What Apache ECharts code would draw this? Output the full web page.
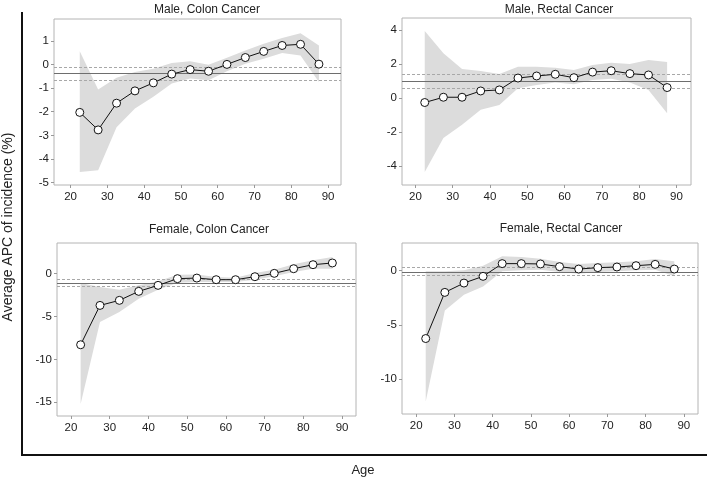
<!DOCTYPE html>
<html>
<head>
<meta charset="utf-8">
<script src="https://cdn.jsdelivr.net/npm/echarts@6/dist/echarts.min.js"></script>
<style>html,body{margin:0;padding:0;background:#fff}#c{width:708px;height:479px}</style>
</head>
<body>
<div id="c"></div>
<script>
const ages = [22.5, 27.5, 32.5, 37.5, 42.5, 47.5, 52.5, 57.5, 62.5, 67.5, 72.5, 77.5, 82.5, 87.5];
const xTicks = [20, 30, 40, 50, 60, 70, 80, 90];

const titles = ['Male, Colon Cancer', 'Male, Rectal Cancer', 'Female, Colon Cancer', 'Female, Rectal Cancer'];

// Male, Colon
const mcEst  = [-2.03, -2.77, -1.64, -1.12, -0.78, -0.41, -0.22, -0.29, 0.0, 0.29, 0.55, 0.80, 0.85, 0.01];
const mcHigh = [0.56, -1.06, -0.56, -0.32, -0.18, 0.06, 0.13, -0.01, 0.28, 0.59, 0.87, 1.12, 1.32, 0.80];
const mcLow  = [-4.55, -4.48, -2.66, -1.86, -1.37, -0.81, -0.60, -0.67, -0.29, 0.03, 0.24, 0.48, 0.38, -0.74];
const mcAapc = [-0.38, -0.13, -0.67];
const mcYTicks = [-5, -4, -3, -2, -1, 0, 1];

// Male, Rectal
const mrEst  = [-0.25, 0.06, 0.06, 0.43, 0.49, 1.19, 1.31, 1.41, 1.21, 1.54, 1.62, 1.45, 1.37, 0.63];
const mrHigh = [3.95, 2.64, 1.72, 1.60, 1.43, 1.86, 1.86, 1.80, 1.66, 1.95, 2.09, 2.01, 2.25, 2.13];
const mrLow  = [-4.34, -2.34, -1.56, -0.68, -0.39, 0.59, 0.78, 0.92, 0.82, 1.07, 1.15, 0.92, 0.49, -0.88];
const mrAapc = [1.0, 1.41, 0.59];
const mrYTicks = [-4, -2, 0, 2, 4];

// Female, Colon
const fcEst  = [-8.29, -3.70, -3.11, -2.06, -1.36, -0.58, -0.51, -0.70, -0.70, -0.35, 0.04, 0.58, 1.05, 1.25];
const fcHigh = [-1.09, -1.56, -1.87, -1.36, -0.89, -0.12, -0.08, -0.39, -0.47, 0.08, 0.47, 1.09, 1.56, 1.95];
const fcLow  = [-15.2, -5.64, -4.47, -2.92, -1.87, -1.05, -0.97, -0.97, -0.97, -0.70, -0.31, 0.19, 0.58, 0.58];
const fcAapc = [-1.09, -0.70, -1.48];
const fcYTicks = [-15, -10, -5, 0];

// Female, Rectal
const frEst  = [-6.25, -2.0, -1.14, -0.52, 0.65, 0.65, 0.62, 0.37, 0.15, 0.28, 0.34, 0.46, 0.58, 0.15];
const frHigh = [-0.06, -0.06, 0.03, 0.46, 1.32, 1.26, 1.10, 0.80, 0.62, 0.71, 0.77, 0.86, 1.08, 0.86];
const frLow  = [-12.06, -3.66, -2.22, -1.45, -0.06, 0.03, 0.09, -0.12, -0.28, -0.12, -0.06, 0.03, 0.09, -0.52];
const frAapc = [-0.12, 0.31, -0.46];
const frYTicks = [-10, -5, 0];

const panels = [
  {est: mcEst, hi: mcHigh, lo: mcLow, aapc: mcAapc, yt: mcYTicks, ymin: -5.1, ymax: 1.92, xmin: 15.5, xmax: 93.5,
   grid: {left: 54, top: 19, width: 287, height: 166}, title: [202, 6]},
  {est: mrEst, hi: mrHigh, lo: mrLow, aapc: mrAapc, yt: mrYTicks, ymin: -5.1, ymax: 4.72, xmin: 16.4, xmax: 93.9,
   grid: {left: 402, top: 18, width: 289, height: 167}, title: [554, 6]},
  {est: fcEst, hi: fcHigh, lo: fcLow, aapc: fcAapc, yt: fcYTicks, ymin: -16.6, ymax: 3.58, xmin: 16.4, xmax: 93.6,
   grid: {left: 57, top: 243, width: 299, height: 173}, title: [204, 226]},
  {est: frEst, hi: frHigh, lo: frLow, aapc: frAapc, yt: frYTicks, ymin: -13.2, ymax: 2.55, xmin: 16.3, xmax: 93.7,
   grid: {left: 402, top: 243, width: 296, height: 171}, title: [556, 225]}
];

const FONT = 'Liberation Sans, Arial, sans-serif';
const grids = [], xAxes = [], yAxes = [], series = [], titleOpts = [];

panels.forEach((p, i) => {
  grids.push(Object.assign({show: true, borderColor: '#b4b4b4', borderWidth: 1, backgroundColor: '#fff'}, p.grid));
  xAxes.push({
    type: 'value', gridIndex: i, min: p.xmin, max: p.xmax,
    axisLine: {show: false, onZero: false}, splitLine: {show: false},
    axisTick: {show: true, length: 3, lineStyle: {color: '#999'}, customValues: xTicks},
    axisLabel: {customValues: xTicks, color: '#222', fontSize: 11.5, fontFamily: FONT, margin: 6}
  });
  yAxes.push({
    type: 'value', gridIndex: i, min: p.ymin, max: p.ymax,
    axisLine: {show: false, onZero: false}, splitLine: {show: false},
    axisTick: {show: true, length: 3, lineStyle: {color: '#999'}, customValues: p.yt},
    axisLabel: {customValues: p.yt, color: '#222', fontSize: 11.5, fontFamily: FONT, margin: 5}
  });
  // confidence band as one polygon
  series.push({
    type: 'custom', xAxisIndex: i, yAxisIndex: i, silent: true, z: 1,
    data: ages.map((a, k) => [a, p.lo[k], p.hi[k]]),
    encode: {x: 0, y: [1, 2]},
    renderItem: function (params, api) {
      if (params.dataIndex !== 0) return null;
      const pts = [];
      for (let k = 0; k < ages.length; k++) pts.push(api.coord([ages[k], p.hi[k]]));
      for (let k = ages.length - 1; k >= 0; k--) pts.push(api.coord([ages[k], p.lo[k]]));
      return {type: 'polygon', shape: {points: pts}, style: {fill: '#dcdcdc', stroke: null}};
    }
  });
  // AAPC reference lines
  series.push({
    type: 'line', xAxisIndex: i, yAxisIndex: i, data: [], silent: true, z: 2,
    markLine: {
      silent: true, symbol: 'none', label: {show: false}, animation: false,
      data: [
        {yAxis: p.aapc[0], lineStyle: {color: '#6e6e6e', width: 1, type: 'solid'}},
        {yAxis: p.aapc[1], lineStyle: {color: '#a8a8a8', width: 1, type: [3, 2]}},
        {yAxis: p.aapc[2], lineStyle: {color: '#a8a8a8', width: 1, type: [3, 2]}}
      ]
    }
  });
  // estimate line
  series.push({
    type: 'line', xAxisIndex: i, yAxisIndex: i, z: 5,
    data: ages.map((a, k) => [a, p.est[k]]),
    symbol: 'circle', symbolSize: 8,
    itemStyle: {color: '#fff', borderColor: '#111', borderWidth: 1},
    lineStyle: {color: '#111', width: 1}
  });
  titleOpts.push({
    text: titles[i], left: p.title[0], top: p.title[1] - 7, textAlign: 'center',
    textStyle: {fontSize: 12, fontWeight: 'normal', color: '#222', fontFamily: FONT}
  });
});

const chart = echarts.init(document.getElementById('c'), null, {renderer: 'canvas'});
chart.setOption({
  animation: false,
  backgroundColor: '#fff',
  title: titleOpts,
  grid: grids,
  xAxis: xAxes,
  yAxis: yAxes,
  series: series,
  graphic: [
    {type: 'line', shape: {x1: 22, y1: 12, x2: 22, y2: 455}, style: {stroke: '#111', lineWidth: 2}},
    {type: 'line', shape: {x1: 21, y1: 455, x2: 707, y2: 455}, style: {stroke: '#111', lineWidth: 2}},
    {type: 'text', x: 8, y: 227, rotation: Math.PI / 2,
     style: {text: 'Average APC of incidence (%)', fill: '#222', font: '14px ' + FONT, align: 'center', verticalAlign: 'middle'}},
    {type: 'text', x: 363, y: 470,
     style: {text: 'Age', fill: '#222', font: '13px ' + FONT, align: 'center', verticalAlign: 'middle'}}
  ]
});
</script>
</body>
</html>
